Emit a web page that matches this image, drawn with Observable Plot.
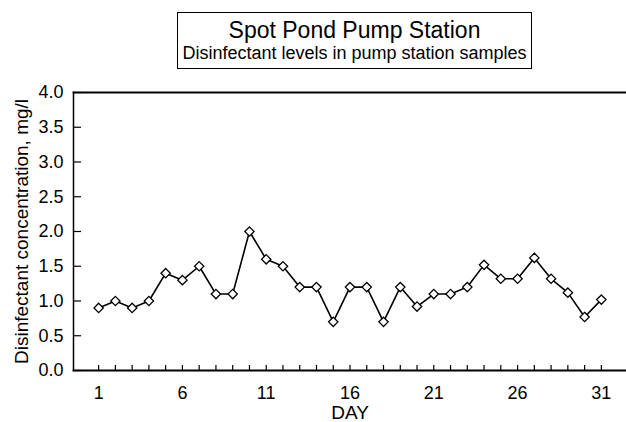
<!DOCTYPE html>
<html>
<head>
<meta charset="utf-8">
<script src="https://cdn.jsdelivr.net/npm/d3@7"></script>
<script src="https://cdn.jsdelivr.net/npm/@observablehq/plot@0.6"></script>
<style>
  html, body { margin: 0; padding: 0; background: #fff; }
  #wrap { position: relative; width: 626px; height: 422px; font-family: "Liberation Sans", Arial, sans-serif; }
  #titlebox { position: absolute; left: 177px; top: 12px; width: 353px; height: 55px; border: 1.5px solid #000; background: #fff; }
  #title { position: absolute; left: 0; right: 0; top: 6px; text-align: center; font-size: 23px; color: #000; line-height: 1; }
  #subtitle { position: absolute; left: 0; right: 0; top: 31px; text-align: center; font-size: 18px; color: #000; line-height: 1; white-space: nowrap; }
  #chart { position: absolute; left: 0; top: 0; }
</style>
</head>
<body>
<div id="wrap">
  <div id="chart"></div>
  <div id="titlebox">
    <div id="title">Spot Pond Pump Station</div>
    <div id="subtitle">Disinfectant levels in pump station samples</div>
  </div>
</div>
<script>
const days = [1,2,3,4,5,6,7,8,9,10,11,12,13,14,15,16,17,18,19,20,21,22,23,24,25,26,27,28,29,30,31];
const levels = [0.9,1.0,0.9,1.0,1.4,1.3,1.5,1.1,1.1,2.0,1.6,1.5,1.2,1.2,0.7,1.2,1.2,0.7,1.2,0.92,1.1,1.1,1.2,1.52,1.32,1.32,1.62,1.32,1.12,0.77,1.02];
const xTickLabels = [1, 6, 11, 16, 21, 26, 31];
const yTicks = [0, 0.5, 1.0, 1.5, 2.0, 2.5, 3.0, 3.5, 4.0];
const xLabel = "DAY";
const yLabel = "Disinfectant concentration, mg/l";

const data = days.map((d, i) => ({day: d, value: levels[i]}));

const W = 626, H = 422;
const mL = 73, mR = 0, mT = 92, mB = 52;
const plotW = W - mL - mR, plotH = H - mT - mB;

const chart = Plot.plot({
  width: W,
  height: H,
  marginLeft: mL,
  marginRight: mR,
  marginTop: mT,
  marginBottom: mB,
  style: {fontFamily: "'Liberation Sans', Arial, sans-serif", fontSize: "18px", color: "#000", background: "#fff", overflow: "visible"},
  x: {domain: [-0.5, 32.5]},
  y: {domain: [0, 4]},
  marks: [
    Plot.axisX(xTickLabels, {tickSize: 0, tickPadding: 16, fontSize: 18, label: null}),
    Plot.axisY(yTicks, {tickSize: 0, tickPadding: 10, fontSize: 18, tickFormat: d3.format(".1f"), label: null}),
    Plot.ruleX(days, {x: d => d, insetTop: plotH - 5, stroke: "#000", strokeWidth: 1.2}),
    Plot.ruleY(yTicks, {y: d => d, insetRight: plotW - 8, stroke: "#000", strokeWidth: 1.2}),
    Plot.frame({anchor: "left", stroke: "#000", strokeWidth: 1.5}),
    Plot.frame({anchor: "bottom", stroke: "#000", strokeWidth: 1.8}),
    Plot.frame({anchor: "top", stroke: "#000", strokeWidth: 1.8}),
    Plot.line(data, {x: "day", y: "value", stroke: "#000", strokeWidth: 1.6}),
    Plot.dot(data, {x: "day", y: "value", symbol: "diamond2", r: 4.2, fill: "#fff", stroke: "#000", strokeWidth: 1.3}),
    Plot.text([xLabel], {text: d => d, frameAnchor: "bottom", dy: 48, fontSize: 19, fill: "#000"}),
    Plot.text([yLabel], {text: d => d, frameAnchor: "left", textAnchor: "middle", rotate: -90, dx: -52, fontSize: 19, fill: "#000"})
  ]
});
document.getElementById("chart").appendChild(chart);
</script>
</body>
</html>
